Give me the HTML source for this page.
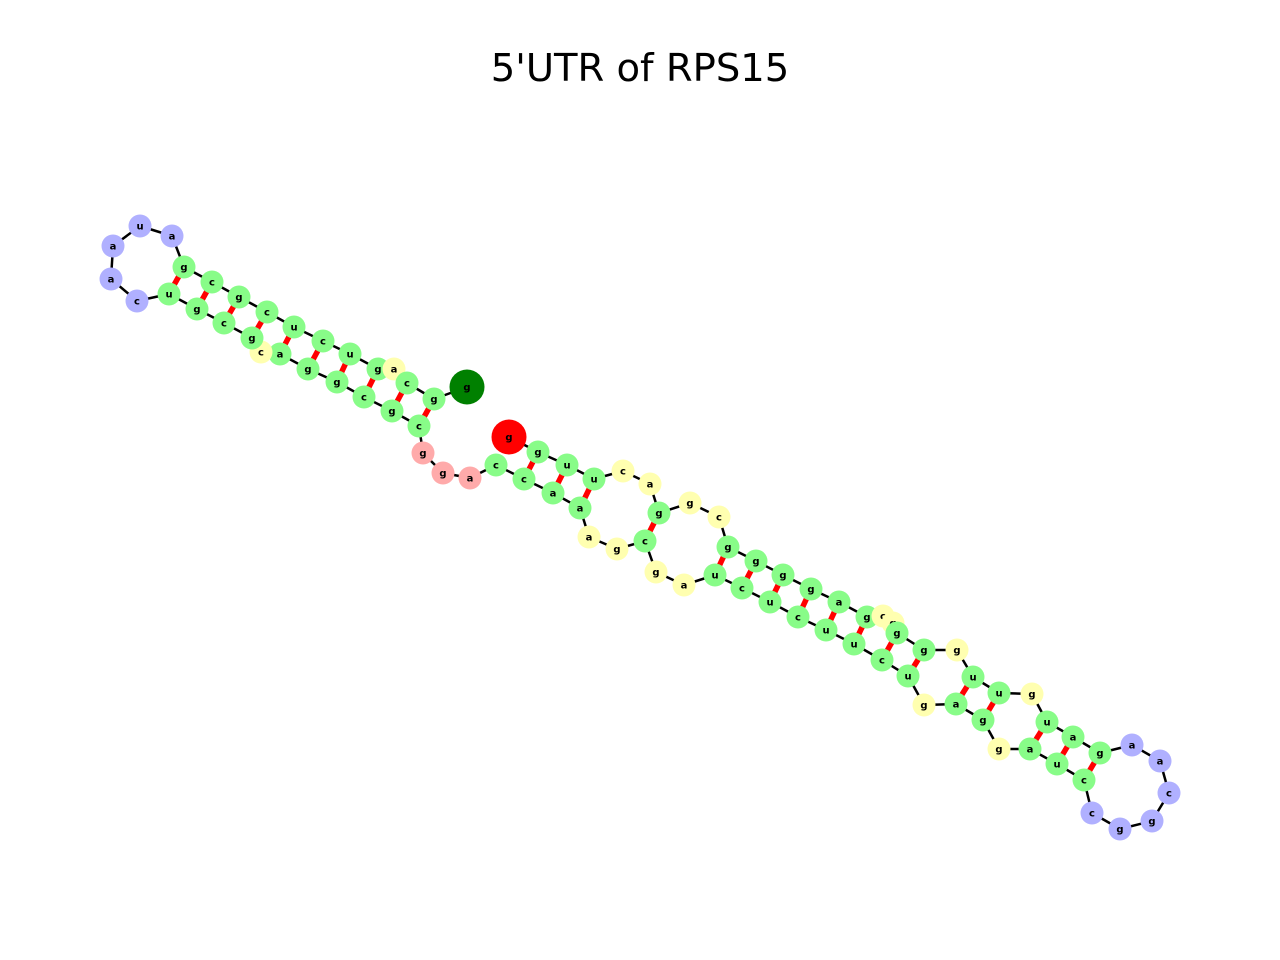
<!DOCTYPE html>
<html><head><meta charset="utf-8"><style>
body{margin:0;background:#fff;}
svg{display:block;}
text{font-family:"DejaVu Sans","Liberation Sans",sans-serif;}
</style></head><body>
<svg id="chart" width="1280" height="960" viewBox="0 0 1280 960">
<text x="640" y="81" text-anchor="middle" font-size="38.5">5'UTR of RPS15</text>
<g id="backbone"></g>
<g id="pairs"></g>
<g id="nodes"></g>
</svg>
<script>
const bases = "gguucaggcggggagcgggguuguagaacggccuaggagucuucucuagcgaaaccaggcgcggacgcgucaauagcgcucugacgg".split("");
const nodeX = [509,538,567,594,623,650,659,690,719,728,756,783,811,839,867,883,893,897,924,957,973,999,1032,1047,1073,1100,1132,1160,1169,1152,1120,1092,1084,1057,1030,999,983,956,924,908,882,854,826,798,770,742,715,684,656,645,617,589,580,553,524,496,470,443,423,419,392,364,337,308,280,261,252,224,197,169,137,111,113,140,172,184,212,239,267,294,323,350,378,394,407,434,467];
const nodeY = [437,452,465,479,471,484,513,503,517,547,561,575,589,602,617,616,623,633,650,650,677,693,694,722,737,753,745,761,793,821,829,813,780,764,749,749,720,704,705,676,660,644,630,617,602,588,575,585,572,541,549,537,508,493,479,465,478,473,453,426,411,397,382,369,354,352,338,323,309,294,301,279,246,226,236,267,282,297,312,327,341,354,369,369,383,399,387];
const nodeType = "RSSSYYSYYSSSSSSYYSSYSSYSSSBBBBBBSSSYSSYSSSSSSSSYYSYYSSSSPPPSSSSSSYSSSSBBBBBSSSSSSSSYSSE".split("");
const pairI = [1,2,3,6,9,10,11,12,13,14,17,18,20,21,23,24,25,59,60,61,62,63,64,66,67,68,69];
const pairJ = [54,53,52,49,46,45,44,43,42,41,40,39,37,36,34,33,32,85,84,82,81,80,79,78,77,76,75];

const NS="http://www.w3.org/2000/svg";
const colors={R:"#ff0000",E:"#008000",S:"#88fc88",Y:"#ffffb0",B:"#b0b0ff",P:"#ffaaaa"};
const bb=document.getElementById('backbone'), pg=document.getElementById('pairs'), ng=document.getElementById('nodes');
for(let i=0;i<nodeX.length-1;i++){
  const l=document.createElementNS(NS,'line');
  l.setAttribute('x1',nodeX[i]);l.setAttribute('y1',nodeY[i]);l.setAttribute('x2',nodeX[i+1]);l.setAttribute('y2',nodeY[i+1]);
  l.setAttribute('stroke','#000');l.setAttribute('stroke-width','2.5');
  
  
  bb.appendChild(l);
}
for(let k=0;k<pairI.length;k++){
  const a=pairI[k],b=pairJ[k];
  const l=document.createElementNS(NS,'line');
  l.setAttribute('x1',nodeX[a]);l.setAttribute('y1',nodeY[a]);l.setAttribute('x2',nodeX[b]);l.setAttribute('y2',nodeY[b]);
  l.setAttribute('stroke','#ff0000');l.setAttribute('stroke-width','5.5');
  
  
  pg.appendChild(l);
}
for(let i=0;i<nodeX.length;i++){
  const t=nodeType[i];
  const g=document.createElementNS(NS,'g');
  
  
  const c=document.createElementNS(NS,'circle');
  c.setAttribute('cx',nodeX[i]);c.setAttribute('cy',nodeY[i]);
  c.setAttribute('r',(t==='R'||t==='E')?17.5:11.5);
  c.setAttribute('fill',colors[t]);
  g.appendChild(c);
  const tx=document.createElementNS(NS,'text');
  tx.setAttribute('x',nodeX[i]);tx.setAttribute('y',nodeY[i]+3.5);
  tx.setAttribute('text-anchor','middle');tx.setAttribute('font-size','10');tx.setAttribute('font-weight','bold');
  tx.textContent=bases[i];
  g.appendChild(tx);
  ng.appendChild(g);
}
</script>
</body></html>
